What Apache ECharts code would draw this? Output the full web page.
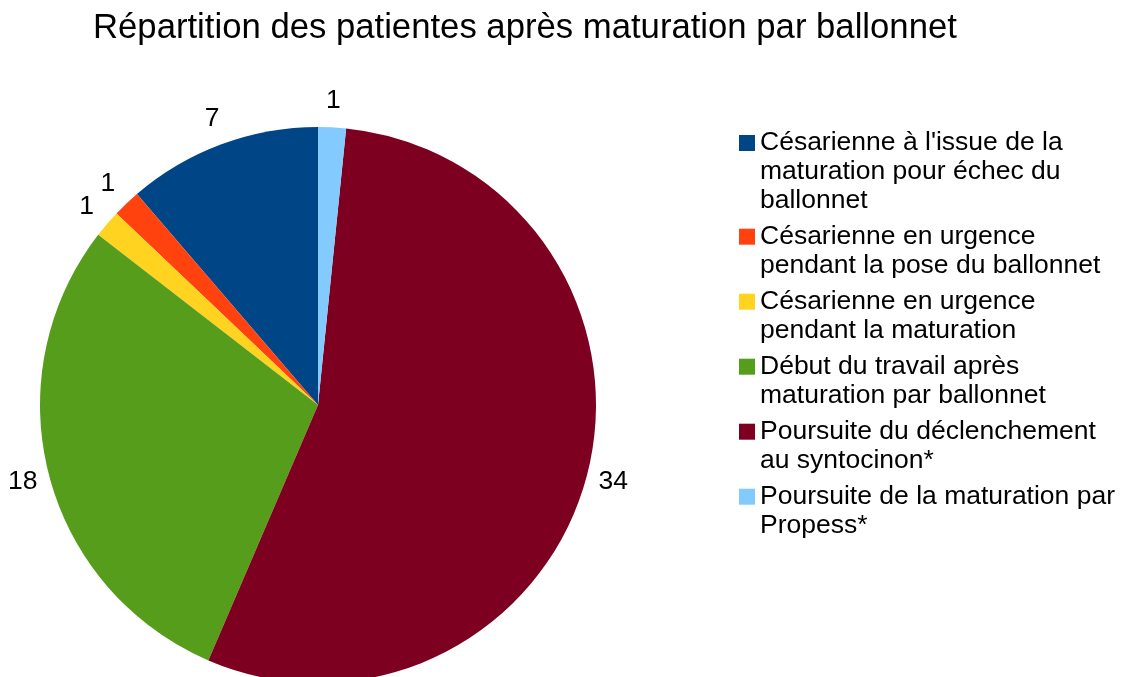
<!DOCTYPE html>
<html>
<head>
<meta charset="utf-8">
<script src="https://cdn.jsdelivr.net/npm/echarts@6/dist/echarts.min.js"></script>
<style>
  html, body { margin: 0; padding: 0; background: #fff; }
  #chart { width: 1121px; height: 677px; }
</style>
</head>
<body>
<div id="chart"></div>
<script>
// catégories (ordre de la légende)
var categories = [
  "Césarienne à l'issue de la\nmaturation pour échec du\nballonnet",
  "Césarienne en urgence\npendant la pose du ballonnet",
  "Césarienne en urgence\npendant la maturation",
  "Début du travail après\nmaturation par ballonnet",
  "Poursuite du déclenchement\nau syntocinon*",
  "Poursuite de la maturation par\nPropess*"
];
var values = [7, 1, 1, 18, 34, 1];
var colors = ['#004586', '#ff420e', '#ffd320', '#579d1c', '#7e0021', '#83caff'];

var FONT = '"Liberation Sans", Arial, sans-serif';
var LH = 28.7;

var chart = echarts.init(document.getElementById('chart'));
var pieData = categories.map(function (c, i) {
  return { name: c, value: values[i], itemStyle: { color: colors[i] } };
});
// anneau des étiquettes : secteurs transparents
var labelData = categories.map(function (c, i) {
  return { name: c, value: values[i], itemStyle: { color: 'rgba(0,0,0,0)' } };
});

chart.setOption({
  animation: false,
  color: colors,
  title: {
    text: 'Répartition des patientes après maturation par ballonnet',
    left: 88,
    top: 6,
    textStyle: { fontFamily: FONT, fontSize: 34.7, fontWeight: 'normal', color: '#000' }
  },
  legend: {
    orient: 'vertical',
    left: 739,
    top: 143 - 2.5 * LH,
    padding: 0,
    itemWidth: 16,
    itemHeight: 16,
    itemGap: 7.6 - LH,
    icon: 'rect',
    data: categories,
    // lignes vides devant : l'icône reste sur la première ligne
    formatter: function (name) {
      return '\n'.repeat(name.split('\n').length - 1) + name;
    },
    textStyle: { fontFamily: FONT, fontSize: 26.5, lineHeight: LH, color: '#000' }
  },
  series: [{
    type: 'pie',
    center: [318, 405],
    radius: [0, 278],
    startAngle: 90,
    clockwise: false,
    avoidLabelOverlap: false,
    label: { show: false },
    labelLine: { show: false },
    emphasis: { disabled: true },
    data: pieData
  }, {
    type: 'pie',
    center: [318, 405],
    radius: [280, 324],
    startAngle: 90,
    clockwise: false,
    silent: true,
    avoidLabelOverlap: false,
    label: {
      show: true,
      position: 'inside',
      formatter: '{c}',
      fontFamily: FONT,
      fontSize: 26.5,
      color: '#000'
    },
    labelLine: { show: false },
    emphasis: { disabled: true },
    data: labelData
  }]
});
</script>
</body>
</html>
